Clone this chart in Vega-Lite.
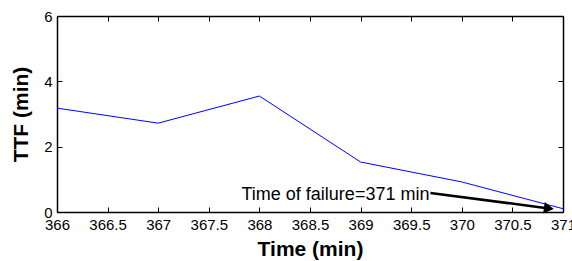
{
  "$schema": "https://vega.github.io/schema/vega-lite/v6.json",
  "width": 506,
  "height": 196,
  "autosize": {"type": "none"},
  "padding": {"left": 57, "top": 16, "right": 9, "bottom": 49},
  "background": "white",
  "config": {
    "view": {"stroke": null},
    "font": "Liberation Sans",
    "axis": {
      "grid": false,
      "domainColor": "black",
      "domainWidth": 1.5,
      "tickColor": "black",
      "tickSize": -5,
      "tickWidth": 1,
      "labelColor": "black",
      "labelFont": "Liberation Sans",
      "labelFontSize": 15,
      "titleFont": "Liberation Sans",
      "titleFontSize": 21,
      "titleFontWeight": "bold",
      "titleColor": "black"
    }
  },
  "datasets": {
    "ttf": [
      {"time": 366, "ttf": 3.18},
      {"time": 367, "ttf": 2.72},
      {"time": 368, "ttf": 3.55},
      {"time": 369, "ttf": 1.53},
      {"time": 370, "ttf": 0.92},
      {"time": 371, "ttf": 0.1}
    ],
    "note": [
      {"x": 369.69, "y": 0.58, "x2": 370.86, "y2": 0.11, "tx": 369.69, "ty": 0.52, "label": "Time of failure=371 min"}
    ]
  },
  "layer": [
    {
      "data": {"name": "ttf"},
      "mark": {"type": "line", "color": "#0000ff", "strokeWidth": 1, "clip": true},
      "encoding": {
        "x": {
          "field": "time", "type": "quantitative",
          "scale": {"domain": [366, 371], "nice": false, "zero": false},
          "axis": {"orient": "bottom", "title": "Time (min)", "values": [366, 366.5, 367, 367.5, 368, 368.5, 369, 369.5, 370, 370.5, 371], "format": "~f", "labelPadding": 10, "titlePadding": 6, "labelFlush": false, "labelOverlap": false}
        },
        "y": {
          "field": "ttf", "type": "quantitative",
          "scale": {"domain": [0, 6], "nice": false},
          "axis": {"orient": "left", "title": "TTF (min)", "values": [0, 2, 4, 6], "format": "d", "labelPadding": 10, "titlePadding": 12, "labelFlush": false}
        }
      }
    },
    {
      "data": {"name": "note"},
      "mark": {"type": "rule", "color": "black", "strokeWidth": 2.5},
      "encoding": {
        "x": {"field": "x", "type": "quantitative", "axis": {"orient": "top", "labels": false, "title": null, "values": [366, 366.5, 367, 367.5, 368, 368.5, 369, 369.5, 370, 370.5, 371]}},
        "y": {"field": "y", "type": "quantitative", "axis": {"orient": "right", "labels": false, "title": null, "values": [0, 2, 4, 6]}},
        "x2": {"field": "x2"},
        "y2": {"field": "y2"}
      }
    },
    {
      "data": {"name": "note"},
      "mark": {"type": "point", "shape": "triangle-right", "filled": true, "color": "black", "opacity": 1, "size": 130, "angle": 7.5},
      "encoding": {
        "x": {"field": "x2", "type": "quantitative", "axis": null},
        "y": {"field": "y2", "type": "quantitative", "axis": null}
      }
    },
    {
      "data": {"name": "note"},
      "mark": {"type": "text", "align": "right", "baseline": "middle", "fontSize": 18, "font": "Liberation Sans", "color": "black", "dx": -1},
      "encoding": {
        "x": {"field": "tx", "type": "quantitative", "axis": null},
        "y": {"field": "ty", "type": "quantitative", "axis": null},
        "text": {"field": "label"}
      }
    }
  ],
  "resolve": {"axis": {"x": "independent", "y": "independent"}}
}
